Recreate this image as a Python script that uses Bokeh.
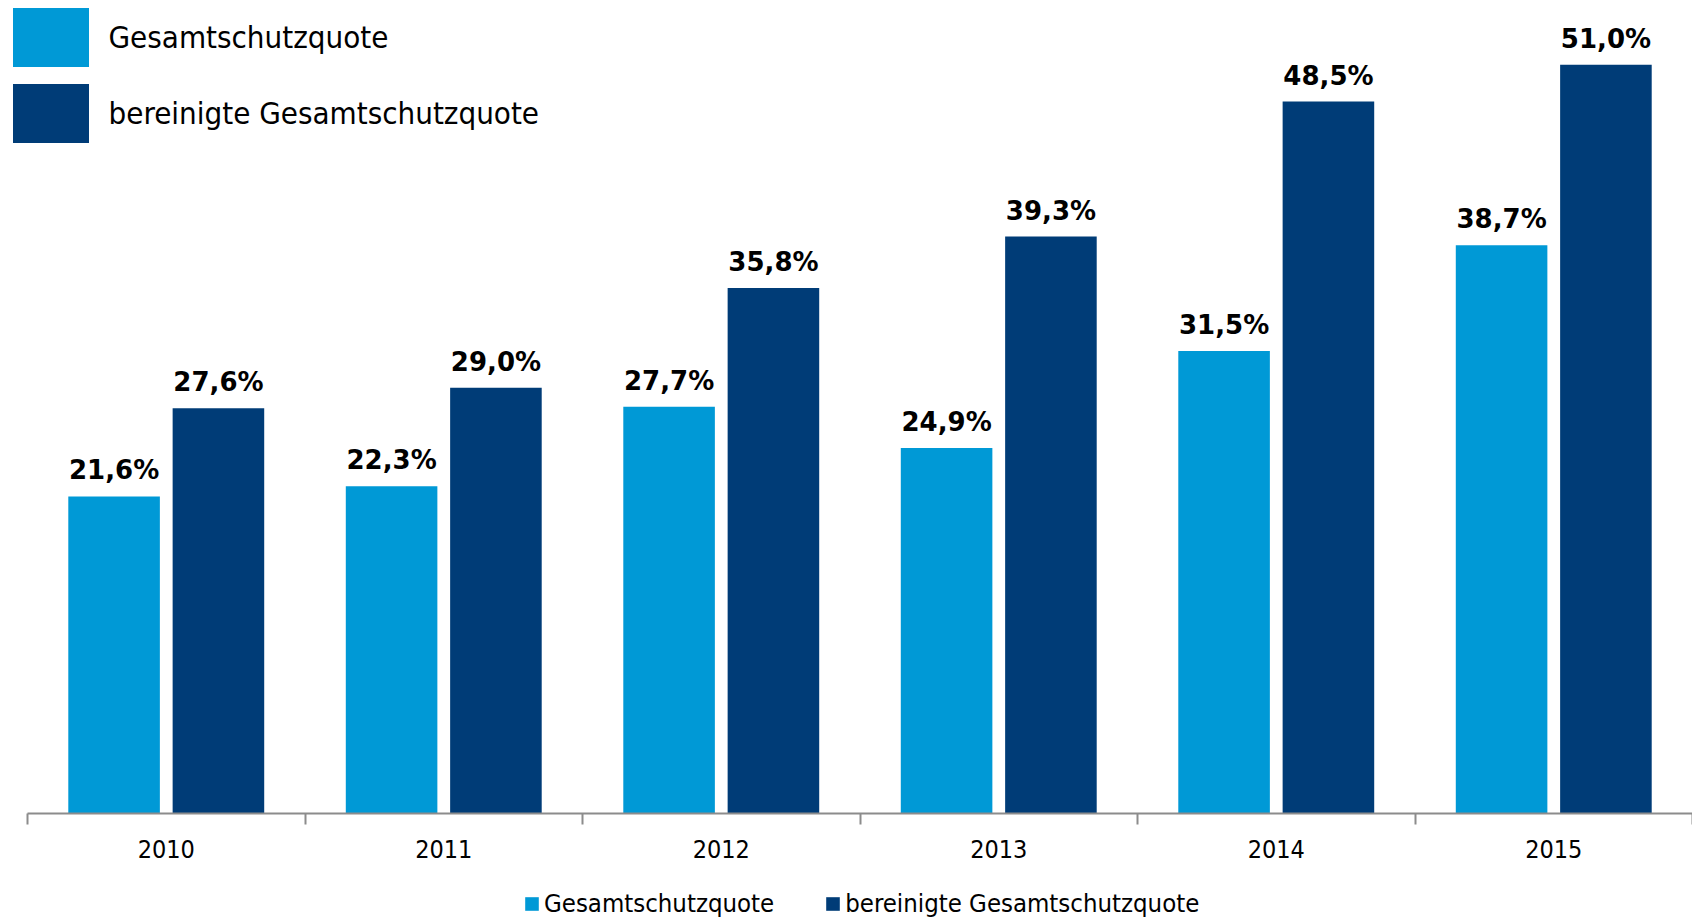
from bokeh.plotting import figure
from bokeh.layouts import column
from bokeh.models import ColumnDataSource, Range1d, FixedTicker, Legend, LegendItem
from bokeh.transform import dodge
from bokeh.core.properties import value
from bokeh.embed import file_html
from bokeh.resources import INLINE

years = ["2010", "2011", "2012", "2013", "2014", "2015"]
gesamt = [21.6, 22.3, 27.7, 24.9, 31.5, 38.7]
bereinigt = [27.6, 29.0, 35.8, 39.3, 48.5, 51.0]
series_names = ["Gesamtschutzquote", "bereinigte Gesamtschutzquote"]

LIGHT = "#0099D6"
DARK = "#003C77"
FONT = "DejaVu Sans Condensed"
BOLD_FONT = "DejaVu Sans"


def fmt(v):
    return f"{v:.1f}".replace(".", ",") + "%"


xc = [i + 0.5 for i in range(len(years))]
src = ColumnDataSource(dict(
    x=xc,
    gesamt=gesamt,
    bereinigt=bereinigt,
    gl=[fmt(v) for v in gesamt],
    bl=[fmt(v) for v in bereinigt],
))

W = 1692
p = figure(width=W, height=875, x_range=Range1d(-0.0973, len(years)),
           y_range=Range1d(0, 55.38), y_axis_type=None,
           output_backend="svg", toolbar_location=None,
           min_border_left=0, min_border_right=0, min_border_top=0,
           min_border_bottom=62)
p.outline_line_color = None
p.xgrid.visible = False
p.ygrid.visible = False

off = 0.188
bw = 0.33
r1 = p.vbar(x=dodge("x", -off, range=p.x_range), top="gesamt", width=bw,
            bottom=0, source=src, fill_color=LIGHT, line_color=None)
r2 = p.vbar(x=dodge("x", off, range=p.x_range), top="bereinigt", width=bw,
            bottom=0, source=src, fill_color=DARK, line_color=None)

for col, lab, d in (("gesamt", "gl", -off), ("bereinigt", "bl", off)):
    p.text(x=dodge("x", d, range=p.x_range), y=col, text=lab, source=src,
           text_align="center", text_baseline="alphabetic", y_offset=-26,
           text_font=value(BOLD_FONT), text_font_style="bold",
           text_font_size="26px", text_color="black")

ax = p.xaxis[0]
ax.bounds = (0, len(years))
ax.ticker = FixedTicker(ticks=xc, minor_ticks=list(range(len(years) + 1)))
ax.major_label_overrides = {x: y for x, y in zip(xc, years)}
ax.major_tick_out = 0
ax.major_tick_in = 0
ax.minor_tick_out = 11
ax.minor_tick_in = 0
ax.minor_tick_line_color = "#8C8C8C"
ax.minor_tick_line_width = 2
ax.axis_line_color = "#8C8C8C"
ax.axis_line_width = 2
ax.major_label_standoff = 15
ax.major_label_text_font = FONT
ax.major_label_text_font_size = "25px"
ax.major_label_text_color = "black"

top_legend = Legend(
    items=[LegendItem(label=series_names[0], renderers=[r1]),
           LegendItem(label=series_names[1], renderers=[r2])],
    location=(2.5, 663), glyph_width=95, glyph_height=74, spacing=2,
    padding=0, margin=0, label_standoff=11,
    label_text_font=FONT, label_text_font_size="31px",
    label_text_color="black", border_line_color=None,
    background_fill_alpha=0)
p.add_layout(top_legend)

# second strip holding the bottom legend
q = figure(width=W, height=43, x_range=Range1d(0, 1), y_range=Range1d(0, 1),
           x_axis_type=None, y_axis_type=None,
           output_backend="svg", toolbar_location=None,
           min_border_left=0, min_border_right=0, min_border_top=0,
           min_border_bottom=0)
q.outline_line_color = None
q.xgrid.visible = False
q.ygrid.visible = False
g1 = q.vbar(x="x", top="gesamt", width=0.1, source=src, fill_color=LIGHT,
            line_color=None, visible=False)
g2 = q.vbar(x="x", top="bereinigt", width=0.1, source=src, fill_color=DARK,
            line_color=None, visible=False)

bottom_legend = Legend(
    items=[LegendItem(label=series_names[0], renderers=[g1]),
           LegendItem(label=series_names[1], renderers=[g2])],
    orientation="horizontal", location=(523, 0),
    glyph_width=17, glyph_height=17, spacing=50, padding=0, margin=0,
    label_standoff=4, label_text_font=FONT, label_text_font_size="25.5px",
    label_text_color="black", border_line_color=None,
    background_fill_alpha=0)
q.add_layout(bottom_legend)

layout = column(p, q, spacing=0)
open("out.html", "w").write(file_html(layout, INLINE))
